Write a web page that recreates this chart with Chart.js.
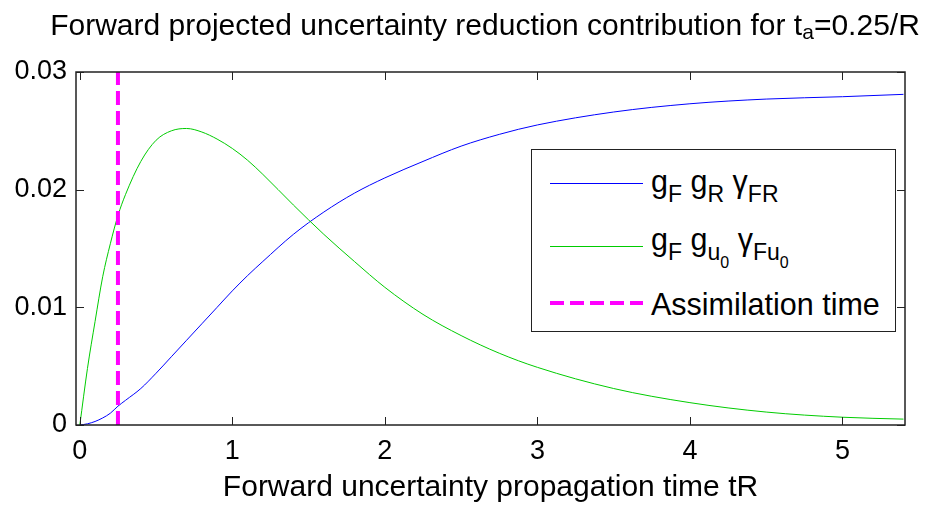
<!DOCTYPE html>
<html>
<head>
<meta charset="utf-8">
<script src="https://cdn.jsdelivr.net/npm/chart.js@4"></script>
<style>
  body { margin: 0; background: #fff; }
  #wrap { position: relative; width: 925px; height: 506px; font-family: "Liberation Sans", Arial, sans-serif; color: #000; }
  #title { position: absolute; left: 35px; width: 900px; top: 10px; text-align: center; font-size: 30px; line-height: 30px; white-space: nowrap; }
  .sub { position: relative; font-size: 21px; top: 4px; }
  #legend { position: absolute; left: 531px; top: 149px; width: 363px; height: 181px; border: 1.5px solid #222; background: #fff; }
  .row { position: absolute; left: 119px; font-size: 30.5px; line-height: 30px; white-space: nowrap; }
  .ls { position: relative; font-size: 23px; top: 10px; }
  .lss { position: relative; font-size: 16px; top: 8px; }
  .sample { position: absolute; left: 18px; }
</style>
</head>
<body>
<div id="wrap">
  <canvas id="myChart" width="925" height="506"></canvas>
  <div id="title">Forward projected uncertainty reduction contribution for t<span class="sub">a</span>=0.25/R</div>
  <div id="legend">
    <svg class="sample" style="top:0" width="94" height="180">
      <line x1="0" y1="33.5" x2="93" y2="33.5" stroke="rgb(0,0,255)" stroke-width="1"/>
      <line x1="0" y1="96.5" x2="93" y2="96.5" stroke="rgb(0,204,0)" stroke-width="1"/>
      <line x1="0" y1="153" x2="93" y2="153" stroke="rgb(255,0,255)" stroke-width="4" stroke-dasharray="14 6"/>
    </svg>
    <div class="row" style="top:16px">g<span class="ls">F</span> g<span class="ls">R</span> γ<span class="ls">FR</span></div>
    <div class="row" style="top:74px">g<span class="ls">F</span> g<span class="ls">u<span class="lss">0</span></span> γ<span class="ls">Fu<span class="lss">0</span></span></div>
    <div class="row" style="top:139px">Assimilation time</div>
  </div>
</div>
<script>
// values
var tR = [0, 0.05, 0.1, 0.15, 0.2, 0.25, 0.3, 0.4, 0.5, 0.6, 0.7, 0.8, 0.9, 1.0, 1.1, 1.2, 1.4, 1.6, 1.8, 2.0, 2.25, 2.5, 2.75, 3.0, 3.5, 4.0, 4.5, 5.0, 5.4];
var gFgRgammaFR = [0, 0.0001, 0.0003, 0.0006, 0.0010, 0.0016, 0.0021, 0.0031, 0.0044, 0.0058, 0.0072, 0.0086, 0.0100, 0.0114, 0.0127, 0.0139, 0.0162, 0.0181, 0.0197, 0.0210, 0.0224, 0.0237, 0.0247, 0.0255, 0.0266, 0.0273, 0.0277, 0.0279, 0.0281];
var gFgu0gammaFu0 = [0, 0.0048, 0.0088, 0.0126, 0.0154, 0.0178, 0.0196, 0.0224, 0.0242, 0.0250, 0.0252, 0.0249, 0.0243, 0.0235, 0.0225, 0.0213, 0.0187, 0.0162, 0.0139, 0.0117, 0.0094, 0.0076, 0.0061, 0.0049, 0.0031, 0.0019, 0.0011, 0.00066, 0.0005];
var assimilationTime = 0.25;
var xTicks = [0, 1, 2, 3, 4, 5];
var yTicks = [0, 0.01, 0.02, 0.03];

function pts(xs, ys) {
  return xs.map(function (x, i) { return { x: x, y: ys[i] }; });
}

// box round the plot with inward ticks on all four sides
var boxPlugin = {
  id: "box",
  afterDatasetsDraw: function (chart) {
    var c = chart.ctx, a = chart.chartArea;
    var xs = chart.scales.x, ys = chart.scales.y, len = 8;
    c.save();
    c.strokeStyle = "#222";
    c.lineWidth = 1.5;
    c.strokeRect(a.left, a.top, a.right - a.left, a.bottom - a.top);
    c.lineWidth = 1;
    c.beginPath();
    xTicks.forEach(function (v) {
      var p = Math.round(xs.getPixelForValue(v)) + 0.5;
      c.moveTo(p, a.bottom); c.lineTo(p, a.bottom - len);
      c.moveTo(p, a.top); c.lineTo(p, a.top + len);
    });
    yTicks.forEach(function (v) {
      var p = Math.round(ys.getPixelForValue(v)) + 0.5;
      c.moveTo(a.left, p); c.lineTo(a.left + len, p);
      c.moveTo(a.right, p); c.lineTo(a.right - len, p);
    });
    c.stroke();
    c.restore();
  }
};

var font = "'Liberation Sans', Arial, sans-serif";
var ctx = document.getElementById("myChart").getContext("2d");
var chart = new Chart(ctx, {
  type: "line",
  data: {
    datasets: [
      {
        label: "gF gR γFR",
        data: pts(tR, gFgRgammaFR),
        borderColor: "rgb(0, 0, 255)",
        borderWidth: 1,
        pointRadius: 0,
        cubicInterpolationMode: "monotone",
        order: 2,
      },
      {
        label: "gF gu0 γFu0",
        data: pts(tR, gFgu0gammaFu0),
        borderColor: "rgb(0, 204, 0)",
        borderWidth: 1,
        pointRadius: 0,
        cubicInterpolationMode: "monotone",
        order: 1,
      },
      {
        label: "Assimilation time",
        data: [{ x: assimilationTime, y: yTicks[0] }, { x: assimilationTime, y: yTicks[yTicks.length - 1] }],
        borderColor: "rgb(255, 0, 255)",
        borderWidth: 4,
        borderDash: [14, 6],
        pointRadius: 0,
        order: 0,
      },
    ],
  },
  options: {
    responsive: false,
    animation: false,
    devicePixelRatio: 1,
    layout: { padding: { top: 72, right: 20, left: 0, bottom: 0 } },
    plugins: { legend: { display: false }, tooltip: { enabled: false } },
    scales: {
      x: {
        type: "linear",
        min: -0.025,
        max: 5.41,
        afterBuildTicks: function (s) { s.ticks = xTicks.map(function (v) { return { value: v }; }); },
        afterFit: function (s) { s.height = 81; },
        grid: { display: false, drawTicks: false },
        border: { display: false },
        ticks: { color: "#000", font: { family: font, size: 27 }, padding: 10, maxRotation: 0 },
        title: { display: true, text: "Forward uncertainty propagation time tR", color: "#000", font: { family: font, size: 30 }, padding: 0 },
      },
      y: {
        type: "linear",
        min: 0,
        max: 0.03,
        afterBuildTicks: function (s) { s.ticks = yTicks.map(function (v) { return { value: v }; }); },
        afterFit: function (s) { s.width = 76; },
        grid: { display: false, drawTicks: false },
        border: { display: false },
        ticks: {
          color: "#000",
          font: { family: font, size: 27 },
          padding: 9,
          callback: function (v) { return v === 0 ? "0" : v.toFixed(2); },
        },
      },
    },
  },
  plugins: [boxPlugin],
});
</script>
</body>
</html>
